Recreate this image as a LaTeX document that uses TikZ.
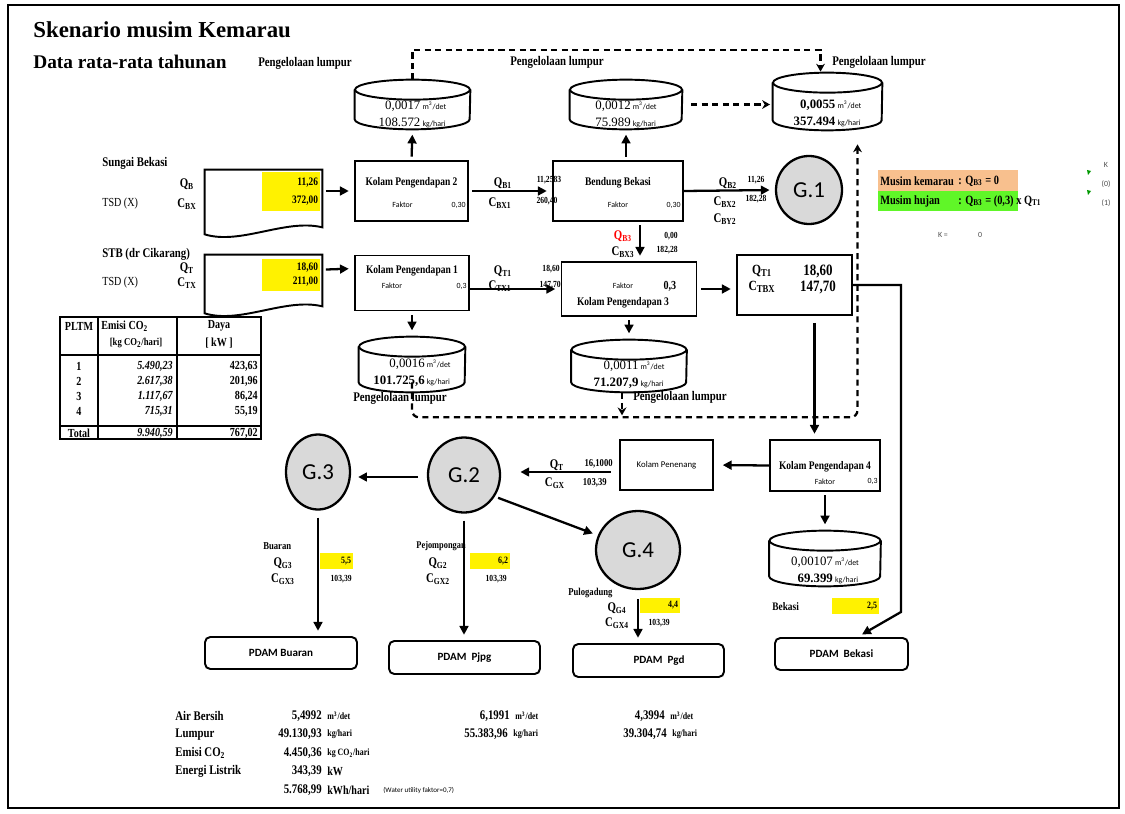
\documentclass[tikz,border=0pt]{standalone}
\usepackage{fontspec}
\setmainfont{Liberation Serif}
\setsansfont{Carlito}
\newfontfamily\condf[FakeStretch=0.82]{Liberation Serif}
\usetikzlibrary{arrows.meta,calc,positioning,shapes.geometric}

\definecolor{peach}{RGB}{248,192,142}
\definecolor{lgreen}{RGB}{96,246,40}
\definecolor{gfill}{RGB}{217,217,217}

\newcommand{\fsz}[1]{\fontsize{#1}{#1}\selectfont}
\newcommand{\qs}[2]{#1\textsubscript{#2}}
\newcommand{\unt}[1]{{\sffamily\mdseries\fsz{4.5}#1}}
% tabung lumpur: [geser teks], nama, pusat, lebar, tinggi, isi
\newcommand{\tabung}[6][-9]{%
  \node[inner sep=0pt, minimum width=#4*0.02cm, minimum height=#5*0.02cm] (#2) at (#3) {};
  \draw[line width=1.1pt] (#2.north west) -- (#2.south west)
    arc[start angle=180, end angle=0, x radius=#4/2, y radius=10] -- (#2.north east);
  \draw[line width=1.1pt] (#2.north) ellipse[x radius=#4/2, y radius=10];
  \node[ctxt] (#2t) at ($(#2.south)+(0,#1)$) {\begin{tabular}{@{}r@{\,}l@{}}#6\end{tabular}};
}

\begin{document}
\begin{tikzpicture}[x=0.02cm, y=-0.02cm,
  sz/.style 2 args={minimum width=#1*0.02cm, minimum height=#2*0.02cm},
  box/.style={draw, line width=1.1pt, inner sep=0pt},
  pdam/.style={draw, line width=1.1pt, rounded corners=3pt, inner sep=0pt, font=\sffamily\bfseries\fsz{6.3}},
  gnode/.style={ellipse, draw, line width=1.3pt, fill=gfill, inner sep=0pt, font=\sffamily\fsz{13}},
  ctxt/.style={inner sep=0pt, font=\fsz{7.3}},
  arr/.style={line width=1.3pt, -{Triangle[length=5pt,width=5pt]}, shorten >=3pt, shorten <=2pt},
  dsh/.style={line width=1.3pt, dash pattern=on 3.5pt off 2.5pt, -{Stealth[length=4.5pt,width=5pt]}},
  ttl/.style={font=\condf\bfseries\fsz{6.6}, inner sep=0pt},
  pl/.style={font=\condf\bfseries\fsz{7.5}, inner sep=0pt},
  lbl/.style={font=\condf\bfseries\fsz{7.5}, inner sep=0pt},
  num/.style={font=\condf\bfseries\fsz{5.3}, inner sep=0pt},
  tiny/.style={font=\sffamily\fsz{4.5}, inner sep=0pt},
  yel/.style={fill=yellow, inner sep=0pt, align=right, font=\condf\bfseries\fsz{6.5}},
  tb/.style={font=\condf\bfseries\fsz{7}, inner sep=0pt},
  sumr/.style={font=\condf\bfseries\fsz{7.5}, inner sep=0pt},
  sunit/.style={font=\condf\bfseries\fsz{5.5}, inner sep=0pt, anchor=west},
  lgd/.style={font=\condf\bfseries\fsz{7.2}, inner sep=0pt, anchor=west}]

\useasboundingbox (0,0) rectangle (1125,814);
\draw[line width=0.8pt] (8,5) rectangle (1119,808);

% judul
\node[anchor=west, inner sep=0pt, font=\bfseries\fsz{13}] (judul) at (33,30) {Skenario musim Kemarau};
\node[anchor=west, inner sep=0pt, font=\bfseries\fsz{11}] (subjudul) at (33,62) {Data rata-rata tahunan};

% sumber: Sungai Bekasi
\node[lbl, anchor=west] (sbt) at (102,163) {Sungai Bekasi};
\node[lbl] (sbq) at (187,184) {\qs{Q}{B}};
\node[lbl, anchor=west, font=\condf\fsz{7}] (sbx) at (102,204) {TSD (X)};
\node[lbl] (sbc) at (187,204) {\qs{C}{BX}};
\node[sz={117}{57}, inner sep=0pt] (sb) at (263.5,198.5) {};
\draw[line width=1.1pt] (sb.north west) -- ($(sb.south west)+(0,7)$)
  .. controls ($(sb.south)+(-23,18)$) and ($(sb.south)+(22,-9)$) .. (sb.south east)
  -- (sb.north east) -- cycle;
\node[yel, sz={58}{39}, text width=1.08cm] (ysb) at (291,191.5) {11,26\\[4pt]372,00};

% sumber: STB
\node[lbl, anchor=west] (stbt) at (102,254) {STB (dr Cikarang)};
\node[lbl] (stbq) at (187,268) {\qs{Q}{T}};
\node[lbl, anchor=west, font=\condf\fsz{7}] (stbx) at (102,283) {TSD (X)};
\node[lbl] (stbc) at (187,283) {\qs{C}{TX}};
\node[sz={117}{51}, inner sep=0pt] (stb) at (263.5,280.5) {};
\draw[line width=1.1pt] (stb.north west) -- ($(stb.south west)+(0,7)$)
  .. controls ($(stb.south)+(-23,18)$) and ($(stb.south)+(22,-9)$) .. (stb.south east)
  -- (stb.north east) -- cycle;
\node[yel, sz={58}{32}, text width=1.08cm] (ystb) at (291,275) {18,60\\[1.5pt]211,00};

% tabel PLTM
\draw[line width=1pt, fill=white] (60,317) rectangle (261,439);
\draw[line width=0.8pt] (98,317) -- (98,439) (177,317) -- (177,439) (60,355) -- (261,355) (60,426) -- (261,426);
\node[tb] (thp) at (79,326) {PLTM};
\node[tb, anchor=west] (the) at (101,326) {Emisi CO\textsubscript{2}};
\node[tb, font=\condf\bfseries\fsz{6}] (theu) at (136,343) {[kg CO\textsubscript{2}/hari]};
\node[tb] (thd) at (219,326) {Daya};
\node[tb] (thdu) at (219,343) {[ kW ]};
\foreach \n/\e/\d in {1/{5.490,23}/{423,63}, 2/{2.617,38}/{201,96}, 3/{1.117,67}/{86,24}, 4/{715,31}/{55,19}}{
  \node[tb] (tn\n) at (79,{351+15*\n}) {\n};
  \node[tb, anchor=east, font=\condf\bfseries\itshape\fsz{7}] (te\n) at (173,{351+15*\n}) {\e};
  \node[tb, anchor=east] (td\n) at (258,{351+15*\n}) {\d};
}
\node[tb] (ttot) at (79,433) {Total};
\node[tb, anchor=east, font=\condf\bfseries\itshape\fsz{7}] (tet) at (173,433) {9.940,59};
\node[tb, anchor=east] (tdt) at (258,433) {767,02};

% label aliran (di bawah kotak)
\node[num] (qb1v) at (549,180) {11,2583};
\node[num] (cbx1v) at (547,201) {260,40};
\node[num, anchor=east] (qt1v) at (560,269) {18,60};
\node[num, anchor=east] (ctx1v) at (561,285) {147,70};

% kolam dan bendung
\node[box, sz={113}{60}] (k2) at (411.5,191) {};
\node[ttl] (k2t) at ($(k2)+(0,-8)$) {Kolam Pengendapan 2};
\node[tiny] (k2f) at ($(k2)+(-9,14)$) {Faktor};
\node[tiny, anchor=east] (k2v) at ($(k2.east)+(-3,14)$) {0,30};

\node[box, sz={130}{60}] (bb) at (618,191) {};
\node[ttl] (bbt) at ($(bb)+(0,-8)$) {Bendung Bekasi};
\node[tiny] (bbf) at ($(bb)+(0,14)$) {Faktor};
\node[tiny, anchor=east] (bbv) at ($(bb.east)+(-3,14)$) {0,30};

\node[box, sz={114}{55}] (k1) at (412,283) {};
\node[ttl] (k1t) at ($(k1)+(0,-12)$) {Kolam Pengendapan 1};
\node[tiny] (k1f) at ($(k1)+(-20,3)$) {Faktor};
\node[tiny, anchor=east] (k1v) at ($(k1.east)+(-3,3)$) {0,3};

\node[box, sz={135}{54}] (k3) at (629,289) {};
\node[tiny] (k3f) at ($(k3)+(-6,-3)$) {Faktor};
\node[ttl, anchor=east, font=\condf\bfseries\fsz{7}] (k3v) at ($(k3.east)+(-21,-3)$) {0,3};
\node[ttl] (k3t) at ($(k3)+(-6,14)$) {Kolam Pengendapan 3};

\node[box, sz={115}{60}] (qt) at (794.5,285) {};
\node[lbl, font=\condf\bfseries\fsz{8}] (qtq) at (762,271) {\qs{Q}{T1}};
\node[lbl, font=\condf\bfseries\fsz{9}] (qtqv) at (818,271) {18,60};
\node[lbl, font=\condf\bfseries\fsz{8}] (qtc) at (762,287) {\qs{C}{TBX}};
\node[lbl, font=\condf\bfseries\fsz{9}] (qtcv) at (818,287) {147,70};

\node[box, sz={110}{51}] (k4) at (825,465.5) {};
\node[ttl] (k4t) at ($(k4)+(0,1)$) {Kolam Pengendapan 4};
\node[tiny] (k4f) at ($(k4)+(0,16)$) {Faktor};
\node[tiny, anchor=east] (k4v) at ($(k4.east)+(-3,16)$) {0,3};

\node[box, sz={93}{50}, font=\sffamily\fsz{5}] (kp) at (666.5,465) {Kolam Penenang};

% titik G
\node[gnode, sz={66}{68}] (g1) at (809,190) {G.1};
\node[gnode, sz={72}{75}] (g2) at (464,475) {G.2};
\node[gnode, sz={64}{75}] (g3) at (318,472) {G.3};
\node[gnode, sz={84}{78}] (g4) at (638,550) {G.4};

% PDAM
\node[pdam, sz={152}{32}] (pBu) at (281,653) {PDAM Buaran};
\node[pdam, sz={151}{33}] (pPj) at (464.5,657.5) {PDAM\ \ Pjpg};
\node[pdam, sz={151}{33}] (pPg) at (648.5,660.5) {\hspace{12pt}PDAM\ \ Pgd};
\node[pdam, sz={133}{32}] (pBe) at (841.5,654) {PDAM\ \ Bekasi};

% tabung lumpur
\tabung[-4]{cK2}{412.5,104.5}{115}{29}{0,0017 & \unt{m\textsuperscript{3}/det}\\[2.5pt] 108.572 & \unt{kg/hari}}
\tabung[-4]{cBB}{626,104.5}{112}{29}{0,0012 & \unt{m\textsuperscript{3}/det}\\[2.5pt] 75.989 & \unt{kg/hari}}
\tabung[-6]{cAll}{827.5,101.5}{109}{37}{\textbf{0,0055} & \unt{m\textsuperscript{3}/det}\\[2.5pt] \textbf{357.494} & \unt{kg/hari}}
\tabung[-9]{cK1}{412,364.5}{106}{35}{0,0016 & \unt{m\textsuperscript{3}/det}\\[2.5pt] \textbf{101.725,6} & \unt{kg/hari}}
\tabung[-7]{cK3}{629,366}{115}{32}{0,0011 & \unt{m\textsuperscript{3}/det}\\[2.5pt] \textbf{71.207,9} & \unt{kg/hari}}
\tabung[-5]{cK4}{825,558.5}{111}{35}{0,00107 & \unt{m\textsuperscript{3}/det}\\[2.5pt] \textbf{69.399} & \unt{kg/hari}}

\node[pl] (pl1) at (305,63) {Pengelolaan lumpur};
\node[pl] (pl2) at (557,62) {Pengelolaan lumpur};
\node[pl] (pl3) at (879,62) {Pengelolaan lumpur};
\node[pl] (pl4) at (400,398) {Pengelolaan lumpur};
\node[pl] (pl5) at (680,397) {Pengelolaan lumpur};

% aliran air
\draw[arr] (sb.east |- k2.west) -- (k2.west);
\draw[arr] ($(stb.north east)+(0,15)$) -- ($(k1.north west)+(0,14)$);
\draw[arr] (k2.east) -- (bb.west);
\draw[arr] (k2.north) -- ($(cK2.south)+(0,10)$);
\draw[arr] (cBB.south |- bb.north) -- ($(cBB.south)+(0,10)$);
\draw[arr, shorten <=0pt] (bb.east) -- (g1.west);
\coordinate (bbd) at ($(bb.south)+(22,0)$);
\draw[arr] (bbd) -- (bbd |- k3.north);
\draw[arr] (k1.south) -- ($(cK1.north)+(0,-11)$);
\draw[arr, shorten <=0pt] (k1.east |- k3.west) -- (k3.west);
\draw[arr] (k3.south) -- ($(cK3.north)+(0,-11)$);
\draw[arr] (k3.east) -- (k3.east -| qt.west);
\coordinate (qtd) at ($(qt.south)+(20,7)$);
\draw[arr, shorten <=0pt] (qtd) -- (qtd |- k4.north);
\draw[arr, shorten <=0pt] (qt.east) -- ++(48,0) -- ++(0,327) -- ($(pBe.north)+(16,0)$);
\draw[arr, shorten >=5pt, shorten <=0pt] (k4.west) -- (kp.east);
\draw[arr] (k4.south) -- ($(cK4.north)+(0,-11)$);
\draw[arr] ($(kp.west)+(-5,7)$) -- ($(g2.east)+(14,-3)$);
\draw[arr, shorten <=5pt, shorten >=4pt] ($(g2.west)+(0,2)$) -- ($(g3.east)+(0,5)$);
\draw[arr] (g2.-35) -- (g4.160);
\draw[arr, shorten <=4pt] (g3.south) -- (g3.south |- pBu.north);
\draw[arr, shorten <=4pt] (g2.south) -- (g2.south |- pPj.north);
\draw[arr, shorten <=5pt] (g4.south) -- (g4.south |- pPg.north);

% aliran lumpur (putus-putus)
\draw[dsh] ($(cK2.north)+(0,-10)$) -- ++(0,-30) -| ($(cAll.north)+(-7,-11)$);
\draw[dsh, shorten <=5pt, shorten >=1.5pt] (cBB.east) -- (cBB.east -| cAll.west);
\draw[dsh, rounded corners=4pt] (cK1.south) -- ++(0,35) -| ($(cAll.south)+(30,24)$);
\draw[dsh] ($(cK3.south)+(-7,10)$) -- ++(0,23);

% label aliran
\node[lbl] (qb1) at (503,183) {\qs{Q}{B1}};
\node[lbl] (cbx1) at (500,203) {\qs{C}{BX1}};
\node[lbl] (qb2) at (728,183) {\qs{Q}{B2}};
\node[num] (qb2v) at (756,180) {11,26};
\node[lbl] (cbx2) at (725,202) {\qs{C}{BX2}};
\node[num] (cbx2v) at (756,199) {182,28};
\node[lbl] (cby2) at (725,219) {\qs{C}{BY2}};
\node[lbl, text=red] (qb3) at (623,236) {\qs{Q}{B3}};
\node[num, anchor=east] (qb3v) at (678,236) {0,00};
\node[lbl] (cbx3) at (623,252) {\qs{C}{BX3}};
\node[num, anchor=east] (cbx3v) at (678,250) {182,28};
\node[lbl] (qt1) at (503,271) {\qs{Q}{T1}};
\node[lbl] (ctx1) at (500,286) {\qs{C}{TX1}};
\node[lbl] (qtp) at (557,465) {\qs{Q}{T}};
\node[num, anchor=east, font=\condf\bfseries\fsz{6}] (qtpv) at (613,464) {16,1000};
\node[lbl] (cgx) at (555,483) {\qs{C}{GX}};
\node[num, anchor=east, font=\condf\bfseries\fsz{6}] (cgxv) at (607,483) {103,39};

% keluaran G
\node[pl, anchor=west, font=\condf\bfseries\fsz{6}] (lbu) at (263,546) {Buaran};
\node[lbl] (qg3) at (283,563) {\qs{Q}{G3}};
\node[yel, sz={33}{16}, text width=0.58cm, font=\condf\bfseries\fsz{5.5}] (ybu) at (336.5,561) {5,5};
\node[lbl] (cgx3) at (283,579) {\qs{C}{GX3}};
\node[num, anchor=east] (cgx3v) at (352,579) {103,39};

\node[pl, anchor=east, font=\condf\bfseries\fsz{5.8}] (lpj) at (466,546) {Pejompongan};
\node[lbl] (qg2) at (438,563) {\qs{Q}{G2}};
\node[yel, sz={40}{16}, text width=0.72cm, font=\condf\bfseries\fsz{5.5}] (ypj) at (490,561) {6,2};
\node[lbl] (cgx2) at (438,579) {\qs{C}{GX2}};
\node[num, anchor=east] (cgx2v) at (507,579) {103,39};

\node[pl, anchor=west, font=\condf\bfseries\fsz{6}] (lpg) at (568,593) {Pulogadung};
\node[lbl] (qg4) at (617,608) {\qs{Q}{G4}};
\node[yel, sz={40}{15}, text width=0.72cm, font=\condf\bfseries\fsz{5.5}] (ypg) at (660,605.5) {4,4};
\node[lbl] (cgx4) at (617,623) {\qs{C}{GX4}};
\node[num, anchor=east] (cgx4v) at (670,623) {103,39};

\node[pl, anchor=west, font=\condf\bfseries\fsz{6.5}] (lbe) at (772,607) {Bekasi};
\node[yel, sz={47}{16}, text width=0.86cm, font=\condf\bfseries\fsz{5.5}] (ybe) at (855.5,606) {2,5};

% keterangan musim
\node[fill=peach, sz={140}{21}, inner sep=0pt] (lkm) at (948,180.5) {};
\node[fill=lgreen, sz={140}{20}, inner sep=0pt] (lhj) at (948,201) {};
\node[lgd] (lkm1) at (880,181) {Musim kemarau};
\node[lgd] (lkm2) at (958,181) {: \qs{Q}{B3} = 0};
\node[lgd] (lhj1) at (880,201) {Musim hujan};
\node[lgd] (lhj2) at (958,201) {: \qs{Q}{B3} = (0,3) x \qs{Q}{T1}};
\node[tiny, text=black!70] (kk) at (1106,165) {K};
\node[tiny, text=black!70] (kn0) at (1106,184) {(0)};
\node[tiny, text=black!70] (kn1) at (1106,203) {(1)};
\node[tiny, text=black!70] (kq) at (943,235) {K =};
\node[tiny, text=black!70] (kq0) at (980,235) {0};
\fill[green!60!black] (1087,170) -- (1091,171) -- (1088,175) -- cycle;
\fill[green!60!black] (1087,190) -- (1091,191) -- (1088,195) -- cycle;

% ringkasan
\foreach \t [count=\i] in {Air Bersih, Lumpur, Emisi CO\textsubscript{2}, Energi Listrik}
  \node[sumr, anchor=west] (sl\i) at (175,{697.5+18.5*\i}) {\t};
\node[sumr, anchor=east] (v11) at (322,716) {5,4992};
\node[sunit] (u11) at (327,716) {m\textsuperscript{3}/det};
\node[sumr, anchor=east] (v12) at (322,734.5) {49.130,93};
\node[sunit] (u12) at (327,734.5) {kg/hari};
\node[sumr, anchor=east] (v13) at (322,753) {4.450,36};
\node[sunit] (u13) at (327,753) {kg CO\textsubscript{2}/hari};
\node[sumr, anchor=east] (v14) at (322,771.5) {343,39};
\node[sunit, font=\condf\bfseries\fsz{7}] (u14) at (327,771.5) {kW};
\node[sumr, anchor=east] (v15) at (322,790) {5.768,99};
\node[sunit, font=\condf\bfseries\fsz{7}] (u15) at (327,790) {kWh/hari};
\node[tiny, anchor=west, font=\sffamily\fsz{4}] (wuf) at (383,790) {(Water utility faktor=0,7)};
\node[sumr, anchor=east] (v21) at (510,716) {6,1991};
\node[sunit] (u21) at (515,716) {m\textsuperscript{3}/det};
\node[sumr, anchor=east] (v22) at (508,734.5) {55.383,96};
\node[sunit] (u22) at (513,734.5) {kg/hari};
\node[sumr, anchor=east] (v31) at (665,716) {4,3994};
\node[sunit] (u31) at (670,716) {m\textsuperscript{3}/det};
\node[sumr, anchor=east] (v32) at (667,734.5) {39.304,74};
\node[sunit] (u32) at (672,734.5) {kg/hari};
\end{tikzpicture}
\end{document}
